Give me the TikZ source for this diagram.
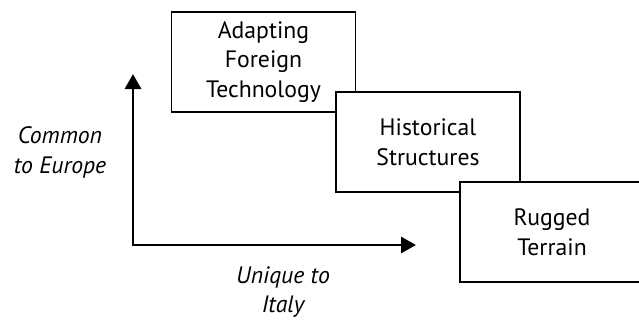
\documentclass[tikz,border=0pt]{standalone}
\usepackage{fontspec}
\setmainfont{PT Sans}
\usepackage{tikz}
\usetikzlibrary{arrows.meta,positioning}
\tikzset{
  factor/.style={draw=black, fill=white, line width=1.1pt, minimum width=3.68cm,
                 minimum height=2.0cm, align=center, inner sep=0pt,
                 font=\fontsize{13.5}{17}\selectfont},
  axis/.style={-{Triangle[length=3mm,width=3.2mm]}, line width=1.7pt, draw=black},
  axislabel/.style={align=center, font=\fontsize{13.5}{17}\selectfont\itshape}
}
\begin{document}
\begin{tikzpicture}[x=1cm,y=1cm]
  \clip (0,0) rectangle (12.78,6.40);
  \node[factor] (tech) at (5.27,5.16) {Adapting\\Foreign\\Technology};
  \node[factor] (hist) at (8.56,3.56) {Historical\\Structures};
  \node[factor] (terr) at (11.04,1.76) {Rugged\\Terrain};

  \coordinate (origin) at (2.66,1.50);
  \coordinate (ytip) at (2.66,4.92);
  \coordinate (xtip) at (8.32,1.50);
  \draw[axis] ([yshift=-0.85pt]origin) -- (ytip);
  \draw[axis] ([xshift=-0.85pt]origin) -- (xtip);

  \node[axislabel] (common) at (1.20,3.36) {Common\\to Europe};
  \node[axislabel] (unique) at (5.66,0.56) {Unique to\\Italy};
\end{tikzpicture}
\end{document}
